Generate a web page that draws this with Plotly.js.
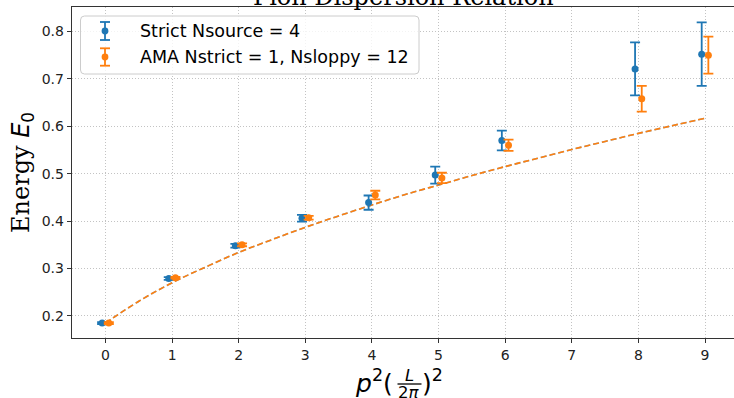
<!DOCTYPE html>
<html>
<head>
<meta charset="utf-8">
<script src="https://cdn.plot.ly/plotly-3.0.1.min.js"></script>
<style>
  html, body { margin: 0; padding: 0; background: #ffffff; }
  #chart { width: 734px; height: 398px; }
</style>
</head>
<body>
<div id="chart"></div>
<script>
// Momentum index p^2 (L/2pi)^2 for each measured state
const momenta = [0, 1, 2, 3, 4, 5, 6, 8, 9];

// Ground-state energies, strict solves (Nsource = 4)
const strictEnergy = [0.185, 0.279, 0.348, 0.406, 0.439, 0.497, 0.570, 0.721, 0.752];
const strictError  = [0.002, 0.003, 0.004, 0.007, 0.015, 0.018, 0.021, 0.056, 0.067];

// Ground-state energies, AMA (Nstrict = 1, Nsloppy = 12)
const amaEnergy = [0.185, 0.2805, 0.350, 0.407, 0.455, 0.491, 0.560, 0.658, 0.750];
const amaError  = [0.002, 0.002, 0.003, 0.004, 0.009, 0.011, 0.012, 0.027, 0.039];

// Continuum dispersion curve
const curveMomenta = [0, 0.5, 1, 1.5, 2, 2.5, 3, 3.5, 4, 4.5, 5, 5.5, 6, 6.5, 7, 7.5, 8, 8.5, 9];
const curveEnergy  = [0.185, 0.231, 0.270, 0.303, 0.334, 0.361, 0.387, 0.411, 0.434, 0.456,
                      0.476, 0.496, 0.515, 0.533, 0.551, 0.568, 0.585, 0.601, 0.617];

const seriesNames = ["Strict Nsource = 4", "AMA Nstrict = 1, Nsloppy = 12"];
const chartTitle = "Pion Dispersion Relation";
const xTicks = [0, 1, 2, 3, 4, 5, 6, 7, 8, 9];
const yTicks = [0.2, 0.3, 0.4, 0.5, 0.6, 0.7, 0.8];

const BLUE = "#1f77b4";
const ORANGE = "#ff7f0e";
const SANS = "DejaVu Sans, sans-serif";
const SERIF = "DejaVu Serif, serif";

// plot-area geometry in pixels
const M = { l: 72, r: 0, t: 7, b: 60 };
const FIG_W = 734, FIG_H = 398;
const PL = M.l, PR = FIG_W - M.r, PT = M.t, PB = FIG_H - M.b;
const fx = p => (p - PL) / (PR - PL);
const fy = p => (PB - p) / (PB - PT);

const shift = 0.05;

function errTrace(xs, ys, errs, color, dx) {
  return {
    type: "scatter",
    mode: "markers",
    x: xs.map(v => v + dx),
    y: ys,
    error_y: { type: "data", array: errs, visible: true, color: color, thickness: 1.8, width: 5 },
    marker: { color: color, size: 7 },
    showlegend: false,
    hoverinfo: "skip"
  };
}

const traces = [
  {
    type: "scatter", mode: "lines", x: curveMomenta, y: curveEnergy,
    line: { color: BLUE, width: 1.6, dash: "6px,3px", shape: "spline" },
    opacity: 0.6, showlegend: false, hoverinfo: "skip"
  },
  {
    type: "scatter", mode: "lines", x: curveMomenta, y: curveEnergy,
    line: { color: ORANGE, width: 1.6, dash: "6px,3px", shape: "spline" },
    showlegend: false, hoverinfo: "skip"
  },
  errTrace(momenta, strictEnergy, strictError, BLUE, -shift),
  errTrace(momenta, amaEnergy, amaError, ORANGE, shift)
];

// legend frame and error-bar keys
function roundedRect(x0, y0, x1, y1, r) {
  const X = fx, Y = fy;
  const rx = r / (PR - PL), ry = r / (PB - PT);
  const a = X(x0), b = X(x1), c = Y(y0), d = Y(y1);
  return `M${a + rx},${c} L${b - rx},${c} Q${b},${c} ${b},${c - ry} L${b},${d + ry} Q${b},${d} ${b - rx},${d} ` +
         `L${a + rx},${d} Q${a},${d} ${a},${d + ry} L${a},${c - ry} Q${a},${c} ${a + rx},${c} Z`;
}

const shapes = [
  {
    type: "path", xref: "paper", yref: "paper",
    path: roundedRect(80.5, 16, 419, 74, 4),
    fillcolor: "rgba(255,255,255,0.8)", line: { color: "#cccccc", width: 1 }
  }
];
const annotations = [];

function legendKey(cx, cy, half, color, label) {
  shapes.push({ type: "line", xref: "paper", yref: "paper", x0: fx(cx), x1: fx(cx), y0: fy(cy - half), y1: fy(cy + half), line: { color: color, width: 1.8 } });
  shapes.push({ type: "line", xref: "paper", yref: "paper", x0: fx(cx - 5), x1: fx(cx + 5), y0: fy(cy - half), y1: fy(cy - half), line: { color: color, width: 1.8 } });
  shapes.push({ type: "line", xref: "paper", yref: "paper", x0: fx(cx - 5), x1: fx(cx + 5), y0: fy(cy + half), y1: fy(cy + half), line: { color: color, width: 1.8 } });
  shapes.push({ type: "circle", xref: "paper", yref: "paper", x0: fx(cx - 3.4), x1: fx(cx + 3.4), y0: fy(cy + 3.4), y1: fy(cy - 3.4), fillcolor: color, line: { color: color, width: 0 } });
  annotations.push({
    xref: "paper", yref: "paper", x: fx(137.5), y: fy(cy), xanchor: "left", yanchor: "middle",
    text: label, showarrow: false, font: { family: SANS, size: 17.5, color: "#000" }
  });
}
legendKey(105, 31, 9, BLUE, seriesNames[0]);
legendKey(105, 57, 8.7, ORANGE, seriesNames[1]);

// title (sits above the frame, mostly outside the figure)
annotations.push({
  xref: "paper", yref: "paper", x: 0.5, y: 1, xanchor: "center", yanchor: "bottom", yshift: -6,
  text: chartTitle, showarrow: false, font: { family: SERIF, size: 24, color: "#000" }
});

// y-axis label
annotations.push({
  xref: "paper", yref: "paper", x: fx(22), y: fy(173), xanchor: "center", yanchor: "middle",
  textangle: -90, showarrow: false,
  text: 'Energy <span style="font-family:DejaVu Sans"><i>E</i><sub>0</sub></span>',
  font: { family: SERIF, size: 24, color: "#000" }
});

// x-axis label: p^2 (L / 2pi)^2 built from pieces
annotations.push({
  xref: "paper", yref: "paper", x: fx(395), y: fy(381), xanchor: "right", yanchor: "middle",
  showarrow: false, text: "<i>p</i><sup>2</sup>(", font: { family: SANS, size: 25, color: "#000" }
});
annotations.push({
  xref: "paper", yref: "paper", x: fx(409.5), y: fy(375), xanchor: "center", yanchor: "middle",
  showarrow: false, text: "<i>L</i>", font: { family: SANS, size: 16.5, color: "#000" }
});
annotations.push({
  xref: "paper", yref: "paper", x: fx(409.5), y: fy(392.5), xanchor: "center", yanchor: "middle",
  showarrow: false, text: "2<i>π</i>", font: { family: SANS, size: 16.5, color: "#000" }
});
annotations.push({
  xref: "paper", yref: "paper", x: fx(420), y: fy(381), xanchor: "left", yanchor: "middle",
  showarrow: false, text: ")<sup>2</sup>", font: { family: SANS, size: 25, color: "#000" }
});
shapes.push({ type: "line", xref: "paper", yref: "paper", x0: fx(397.5), x1: fx(421.5), y0: fy(384), y1: fy(384), line: { color: "#000", width: 1.3 } });

const gridStyle = { showgrid: true, gridcolor: "#bdbdbd", gridwidth: 0.9, griddash: "1px,2px" };

const layout = {
  width: FIG_W, height: FIG_H,
  margin: M,
  paper_bgcolor: "#ffffff",
  plot_bgcolor: "#ffffff",
  showlegend: false,
  xaxis: Object.assign({
    range: [-0.5025, 9.435], tickvals: xTicks, ticktext: xTicks.map(String),
    zeroline: false, showline: true, linecolor: "#333", linewidth: 1.3, mirror: true,
    ticks: "outside", ticklen: 4, tickwidth: 1, tickcolor: "#333",
    tickfont: { family: SANS, size: 14, color: "#222" }, automargin: false
  }, gridStyle),
  yaxis: Object.assign({
    range: [0.1535, 0.8515], tickvals: yTicks, ticktext: yTicks.map(v => v.toFixed(1)),
    zeroline: false, showline: true, linecolor: "#333", linewidth: 1.3,
    ticks: "outside", ticklen: 4, tickwidth: 1, tickcolor: "#333",
    tickfont: { family: SANS, size: 14, color: "#222" }, automargin: false
  }, gridStyle),
  shapes: shapes,
  annotations: annotations
};

Plotly.newPlot("chart", traces, layout, { staticPlot: true, displayModeBar: false });
</script>
</body>
</html>
